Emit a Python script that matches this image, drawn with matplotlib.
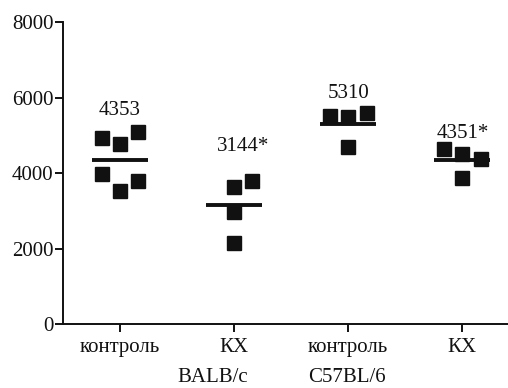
import matplotlib
matplotlib.use("Agg")
import matplotlib.pyplot as plt

plt.rcParams['font.family'] = ['Liberation Serif', 'DejaVu Serif']

categories = ["контроль", "КХ", "контроль", "КХ"]
strains = ["BALB/c", "C57BL/6"]
values = [
    [4930, 4770, 5090, 3970, 3520, 3790],
    [3630, 3790, 2970, 2150],
    [5510, 5480, 5590, 4690],
    [4640, 4500, 4370, 3870],
]
offsets = [
    [-0.16, 0.0, 0.16, -0.16, 0.0, 0.16],
    [0.0, 0.16, 0.0, 0.0],
    [-0.16, 0.0, 0.16, 0.0],
    [-0.16, 0.0, 0.16, 0.0],
]
means = [4353, 3144, 5310, 4351]
mean_labels = ["4353", "3144*", "5310", "4351*"]
label_y = [5670, 4715, 6120, 5060]
label_dx = [0.0, 0.08, 0.0, 0.0]

fig = plt.figure(figsize=(5.08, 3.88), dpi=100)
ax = fig.add_axes([0.124, 0.165, 0.876, 0.778])

for i, (vals, offs) in enumerate(zip(values, offsets)):
    xc = i + 1
    ax.plot([xc + o for o in offs], vals, linestyle='none', marker='s',
            markersize=9.5, color='#111111', zorder=3)
    ax.plot([xc - 0.245, xc + 0.245], [means[i], means[i]], color='#111111',
            linewidth=2.8, solid_capstyle='butt', zorder=2)
    ax.text(xc + label_dx[i], label_y[i], mean_labels[i], ha='center', va='center',
            fontsize=15, color='#111111')

ax.set_xlim(0.5, 4.4)
ax.set_ylim(0, 8000)
ax.set_yticks([0, 2000, 4000, 6000, 8000])
ax.set_xticks([1, 2, 3, 4])
ax.set_xticklabels(categories)
for s in ['top', 'right']:
    ax.spines[s].set_visible(False)
for s in ['left', 'bottom']:
    ax.spines[s].set_linewidth(1.4)
    ax.spines[s].set_color('#111111')
ax.tick_params(axis='both', length=6, width=1.4, labelsize=15, colors='#111111')
ax.tick_params(axis='y', pad=1)
ax.tick_params(axis='x', pad=4)

fig.text(213 / 508, 1 - 378 / 388, strains[0], ha='center', va='center', fontsize=15, color='#111111')
fig.text(347 / 508, 1 - 378 / 388, strains[1], ha='center', va='center', fontsize=15, color='#111111')

fig.savefig("out.png", dpi=100)
